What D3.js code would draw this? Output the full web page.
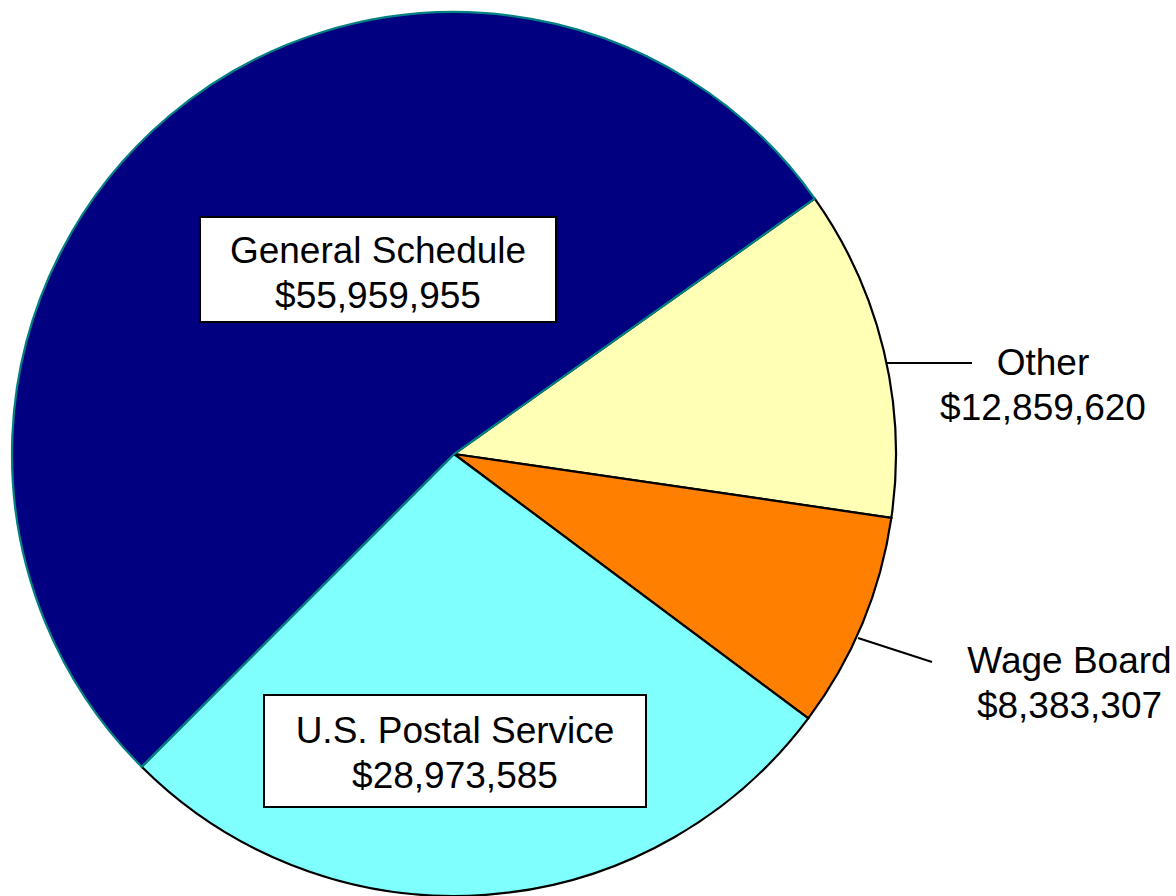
<!DOCTYPE html>
<html>
<head>
<meta charset="utf-8">
<script src="https://cdn.jsdelivr.net/npm/d3@7"></script>
<style>
  html, body { margin: 0; padding: 0; background: #ffffff; }
  svg { display: block; }
  text { font-family: "Liberation Sans", Arial, sans-serif; }
</style>
</head>
<body>
<svg id="chart" width="1176" height="896"></svg>
<script>
// ---- data (clockwise order starting at the GS/Other boundary) ----
const categories = ["Other", "Wage Board", "U.S. Postal Service", "General Schedule"];
const values = [12859620, 8383307, 28973585, 55959955];
const valueLabels = ["$12,859,620", "$8,383,307", "$28,973,585", "$55,959,955"];

// ---- styles / layout ----
const fills = ["#FFFFB5", "#FF8000", "#80FFFF", "#000080"];
const strokes = ["#000000", "#000000", "#000000", "#008080"];
const cx = 454, cy = 454, R = 442;
const startDeg = 54.7;
const fontSize = 37;
const lineGap = 45;

// label layout: boxed labels inside slices, leader-line labels outside
const labelLayout = [
  { type: "leader", x: 1043, y: 375, line: [[887, 363], [972, 363]] },
  { type: "leader", x: 1069.5, y: 673, line: [[858, 638], [932, 662]] },
  { type: "box", x: 455, y: 743, box: [264, 695, 646, 807] },
  { type: "box", x: 378, y: 263, box: [200, 217, 556, 322] }
];

const svg = d3.select("#chart");
const g = svg.append("g").attr("transform", `translate(${cx},${cy})`);

const pie = d3.pie()
  .sort(null)
  .value(d => d)
  .startAngle(startDeg * Math.PI / 180)
  .endAngle(startDeg * Math.PI / 180 + 2 * Math.PI);

const arcs = pie(values);
const arc = d3.arc().innerRadius(0).outerRadius(R);

// draw black-outlined slices first, teal-outlined General Schedule last
const order = [0, 1, 2, 3];
g.selectAll("path.slice")
  .data(order.map(i => ({ a: arcs[i], i })))
  .join("path")
  .attr("class", "slice")
  .attr("d", d => arc(d.a))
  .attr("fill", d => fills[d.i])
  .attr("stroke", d => strokes[d.i])
  .attr("stroke-width", 2.2)
  .attr("stroke-linejoin", "miter");

// labels
const lg = svg.append("g");
categories.forEach((cat, i) => {
  const L = labelLayout[i];
  if (L.type === "box") {
    const [x0, y0, x1, y1] = L.box;
    lg.append("rect")
      .attr("x", x0).attr("y", y0)
      .attr("width", x1 - x0).attr("height", y1 - y0)
      .attr("fill", "#ffffff")
      .attr("stroke", "#000000")
      .attr("stroke-width", 2);
  } else {
    lg.append("line")
      .attr("x1", L.line[0][0]).attr("y1", L.line[0][1])
      .attr("x2", L.line[1][0]).attr("y2", L.line[1][1])
      .attr("stroke", "#000000")
      .attr("stroke-width", 2);
  }
  const t = lg.append("text")
    .attr("text-anchor", "middle")
    .attr("font-size", fontSize)
    .attr("fill", "#000000");
  t.append("tspan").attr("x", L.x).attr("y", L.y).text(cat);
  t.append("tspan").attr("x", L.x).attr("y", L.y + lineGap).text(valueLabels[i]);
});
</script>
</body>
</html>
